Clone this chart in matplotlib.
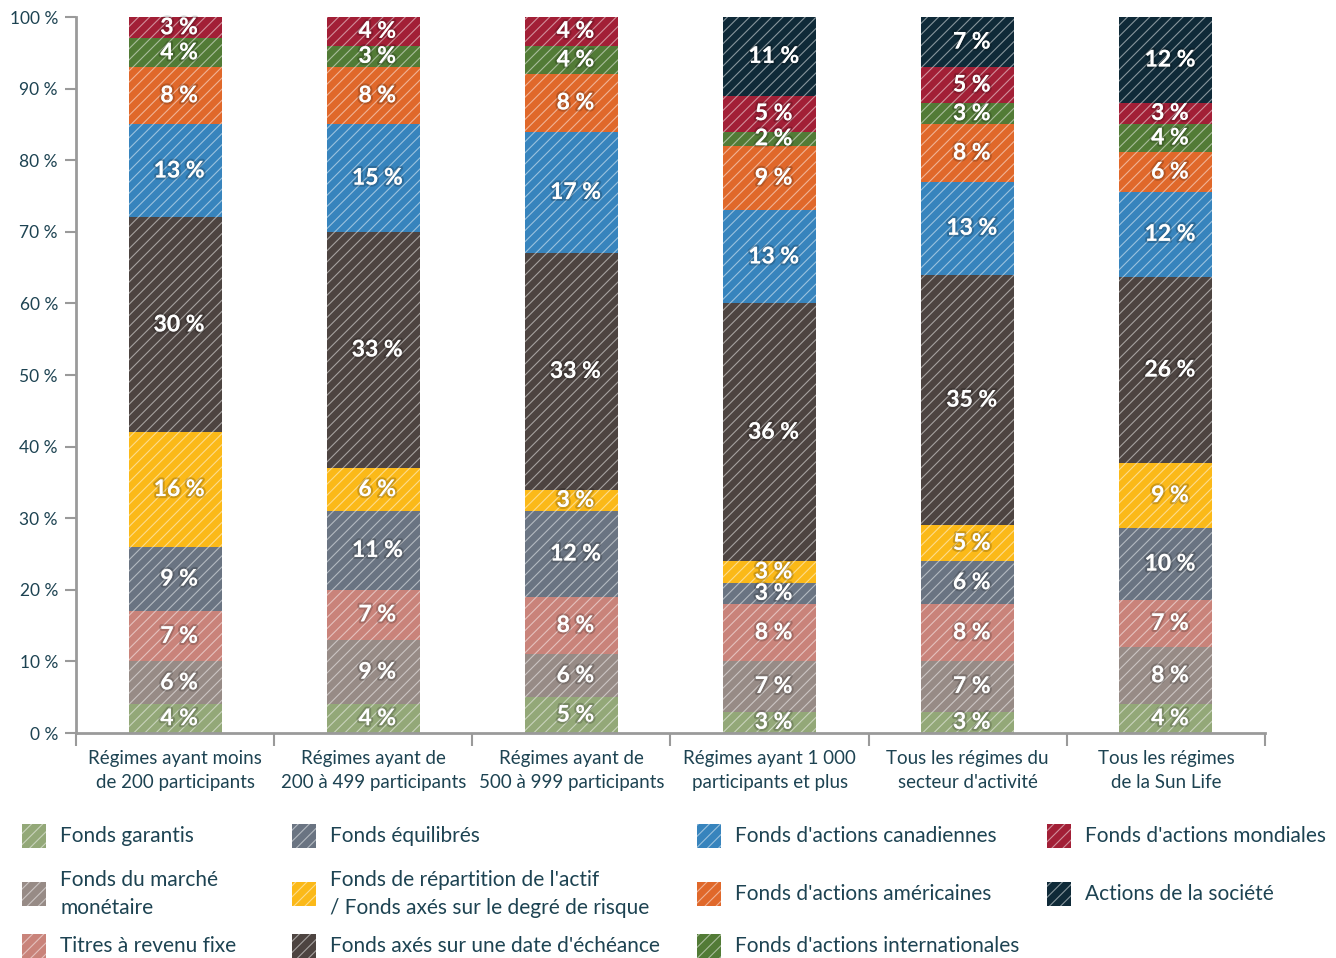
import numpy as np
import matplotlib.pyplot as plt
import matplotlib.patheffects as pe
from matplotlib.patches import Rectangle
from matplotlib.colors import to_rgb

plt.rcParams['font.family'] = ['Lato', 'DejaVu Sans']
plt.rcParams['hatch.linewidth'] = 0.8

#%% donnees
groupes = ["Régimes ayant moins\nde 200 participants",
           "Régimes ayant de\n200 à 499 participants",
           "Régimes ayant de\n500 à 999 participants",
           "Régimes ayant 1 000\nparticipants et plus",
           "Tous les régimes du\nsecteur d'activité",
           "Tous les régimes\nde la Sun Life"]

series = ["Fonds garantis",
          "Fonds du marché\nmonétaire",
          "Titres à revenu fixe",
          "Fonds équilibrés",
          "Fonds de répartition de l'actif\n/ Fonds axés sur le degré de risque",
          "Fonds axés sur une date d'échéance",
          "Fonds d'actions canadiennes",
          "Fonds d'actions américaines",
          "Fonds d'actions internationales",
          "Fonds d'actions mondiales",
          "Actions de la société"]

couleurs = ["#93a878", "#978b86", "#c9837a", "#6a7482", "#fbb918", "#4d4441",
            "#3784bd", "#e0682a", "#527b36", "#a21f36", "#0f2a38"]

# % par serie, un tableau par groupe de regimes
moins_200 = [4, 6, 7, 9, 16, 30, 13, 8, 4, 3, 0]
de_200_499 = [4, 9, 7, 11, 6, 33, 15, 8, 3, 4, 0]
de_500_999 = [5, 6, 8, 12, 3, 33, 17, 8, 4, 4, 0]
plus_1000 = [3, 7, 8, 3, 3, 36, 13, 9, 2, 5, 11]
secteur = [3, 7, 8, 6, 5, 35, 13, 8, 3, 5, 7]
sun_life = [4, 8, 6.6, 10, 9.1, 26, 11.9, 5.5, 4, 2.9, 12]

data = np.array([moins_200, de_200_499, de_500_999, plus_1000, secteur, sun_life])

texte = "#1d4352"
gris = "#9a9a9a"


def clair(c, f=0.5):
    r, g, b = to_rgb(c)
    return (r + (1 - r) * f, g + (1 - g) * f, b + (1 - b) * f)


#%% figure
fig = plt.figure(figsize=(13.36, 9.58), dpi=100)
ax = fig.add_axes([76 / 1336, 1 - 733 / 958, (1265 - 76) / 1336, (733 - 17) / 958])

x = np.arange(len(groupes))
bas = np.zeros(len(groupes))
for j in range(len(series)):
    vals = data[:, j]
    ax.bar(x, vals, 0.47, bottom=bas, color=couleurs[j], edgecolor=clair(couleurs[j]),
           linewidth=0, hatch='///')
    for i in range(len(groupes)):
        if vals[i] > 0:
            t = ax.text(x[i] + 0.02, bas[i] + vals[i] / 2, f"{vals[i]:.0f} %", ha='center', va='center',
                        color='white', fontsize=16.5, fontweight='bold')
            t.set_path_effects([pe.withStroke(linewidth=3, foreground=(0, 0, 0, 0.18))])
    bas += vals

ax.set_xlim(-0.5, 5.5)
ax.set_ylim(0, 100)
for s in ['top', 'right']:
    ax.spines[s].set_visible(False)
for s in ['left', 'bottom']:
    ax.spines[s].set_color(gris)
    ax.spines[s].set_linewidth(2)

ax.set_yticks(np.arange(0, 101, 10))
ax.set_yticklabels([f"{v} %" for v in range(0, 101, 10)])
ax.tick_params(axis='y', colors=gris, length=8, width=1.5, labelcolor=texte, labelsize=12.5, pad=5)

ax.set_xticks(x)
ax.set_xticklabels(groupes, linespacing=1.5)
ax.set_xticks(np.arange(-0.5, 6, 1), minor=True)
ax.tick_params(axis='x', which='major', length=0, labelcolor=texte, labelsize=13.5, pad=12)
ax.tick_params(axis='x', which='minor', length=9, width=1.5, colors=gris)

#%% legende (4 colonnes, 3 lignes)
col_x = [22, 292, 697, 1047]
lig_y = [836, 894, 946]
for k, nom in enumerate(series):
    c, r = k // 3, k % 3
    px, py = col_x[c], lig_y[r]
    fig.patches.append(Rectangle((px / 1336, 1 - (py + 12) / 958), 24 / 1336, 24 / 958,
                                 transform=fig.transFigure, facecolor=couleurs[k],
                                 edgecolor=clair(couleurs[k]), linewidth=0, hatch='///'))
    fig.text((px + 38) / 1336, 1 - py / 958, nom, ha='left', va='center', color=texte,
             fontsize=15, linespacing=1.55)

fig.savefig("out.png", dpi=100)
